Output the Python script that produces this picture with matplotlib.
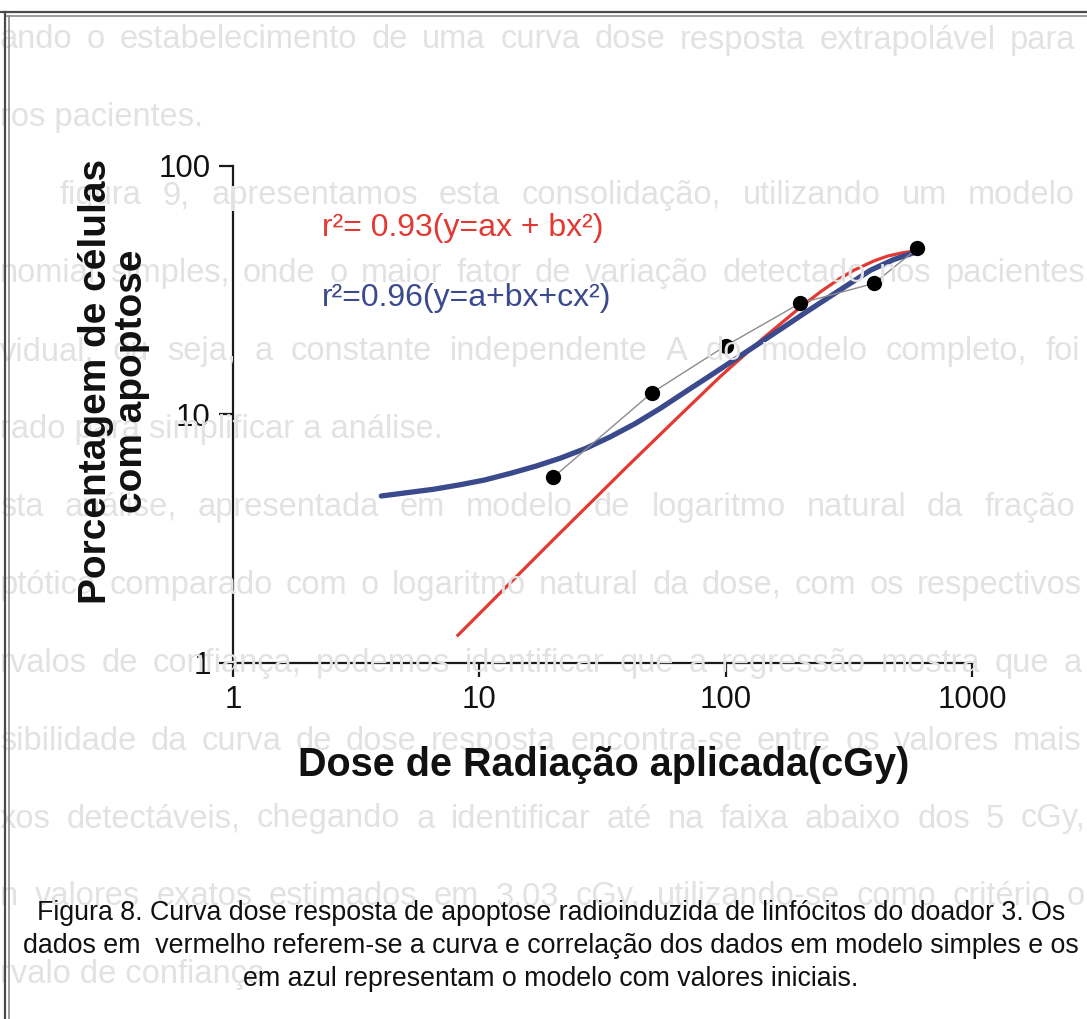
import matplotlib
matplotlib.use("Agg")
import matplotlib.pyplot as plt
from matplotlib.lines import Line2D
from matplotlib.ticker import FixedLocator, FixedFormatter, NullLocator

plt.rcParams['font.family'] = ['Liberation Sans', 'DejaVu Sans']

# ---------------- data ----------------
dose = [20, 50, 100, 200, 400, 600]
apoptose = [5.6, 12.2, 18.9, 28.0, 33.7, 46.6]

# red model curve (y = ax + bx^2)
red_x = [8.1, 20, 40, 63, 95, 143, 201, 243, 290, 332, 400, 454, 520, 590]
red_y = [1.28, 3.14, 6.2, 9.6, 14.2, 20.4, 27.0, 31.2, 35.2, 38.1, 41.5, 43.4, 44.7, 45.6]

# blue model curve (y = a + bx + cx^2)
blue_x = [4.0, 5.2, 6.5, 8.4, 10.5, 13.4, 17, 21.3, 27, 34.1, 43, 54.4, 70, 90,
          130, 170, 208, 284, 388, 480, 590]
blue_y = [4.70, 4.86, 5.00, 5.22, 5.45, 5.80, 6.20, 6.67, 7.30, 8.14, 9.2, 10.6, 12.5, 14.7,
          18.7, 22.3, 25.5, 31.2, 38.1, 42.0, 45.0]

x_ticks = [1, 10, 100, 1000]
x_ticklabels = ["1", "10", "100", "1000"]
y_ticks = [1, 10, 100]
y_ticklabels = ["1", "10", "100"]

red_label = "r²= 0.93(y=ax + bx²)"
blue_label = "r²=0.96(y=a+bx+cx²)"
x_title = "Dose de Radiação aplicada(cGy)"
y_title = "Porcentagem de células\ncom apoptose"
caption = ["Figura 8. Curva dose resposta de apoptose radioinduzida de linfócitos do doador 3. Os",
           "dados em  vermelho referem-se a curva e correlação dos dados em modelo simples e os",
           "em azul representam o modelo com valores iniciais."]

# faint bleed-through text of the scanned page: (text, left px, right px or None)
bg_lines = [
    ("ando o estabelecimento de uma curva dose resposta extrapolável para", 0, 1075),
    ("ros pacientes.", 0, None),
    ("figura 9, apresentamos esta consolidação, utilizando um modelo", 60, 1075),
    ("nomial simples, onde o maior fator de variação detectado nos pacientes", 0, 1085),
    ("vidual, ou seja, a constante independente A do modelo completo, foi", 0, 1080),
    ("rado para simplificar a análise.", 0, None),
    ("sta análise, apresentada em modelo de logaritmo natural da fração", 0, 1075),
    ("ptótica comparado com o logaritmo natural da dose, com os respectivos", 0, 1082),
    ("rvalos de confiança, podemos identificar que a regressão mostra que a", 0, 1082),
    ("sibilidade da curva de dose resposta encontra-se entre os valores mais", 0, 1082),
    ("xos detectáveis, chegando a identificar até na faixa abaixo dos 5 cGy,", 0, 1085),
    ("n valores exatos estimados em 3,03 cGy, utilizando-se como critério o", 0, 1085),
    ("rvalo de confiança", 0, None),
]

# ---------------- figure ----------------
W, H = 1087, 1019
fig = plt.figure(figsize=(W / 100, H / 100), dpi=100)
fig.patch.set_facecolor("white")

def fx(px):
    return px / W

def fy(py):
    return 1 - py / H

# faint background text (justified where the original line is full)
renderer = fig.canvas.get_renderer()
bg_color = "#e2e2e2"
bg_size = 23.5
for i, (txt, left, right) in enumerate(bg_lines):
    ycen = 40 + 77.9 * i
    if right is None:
        fig.text(fx(left), fy(ycen), txt, fontsize=bg_size, color=bg_color,
                 ha="left", va="center", zorder=0)
        continue
    words = txt.split(" ")
    objs = [fig.text(0, fy(ycen), w, fontsize=bg_size, color=bg_color,
                     ha="left", va="center", zorder=0) for w in words]
    widths = [o.get_window_extent(renderer).width for o in objs]
    gap = (right - left - sum(widths)) / max(len(words) - 1, 1)
    xpos = left
    for o, wdt in zip(objs, widths):
        o.set_x(fx(xpos))
        xpos += wdt + gap

# scanned page frame
frame_lines = [
    ((0, W), (12, 12), "#4a4a4a", 1.6),
    ((5, W), (15.5, 15.5), "#8a8a8a", 1.2),
    ((5, 5), (12, H), "#4a4a4a", 1.6),
    ((9, 9), (15.5, H), "#8a8a8a", 1.2),
]
for xs, ys, col, lw in frame_lines:
    fig.add_artist(Line2D([fx(v) for v in xs], [fy(v) for v in ys],
                          color=col, lw=lw, transform=fig.transFigure))

# ---------------- axes ----------------
x0, x1, ytop, ybot = 233, 972, 166, 663
ax = fig.add_axes([fx(x0), fy(ybot), (x1 - x0) / W, (ybot - ytop) / H])
ax.patch.set_alpha(0)
ax.set_xscale("log")
ax.set_yscale("log")
ax.set_xlim(1, 1000)
ax.set_ylim(1, 100)

for s in ["top", "right"]:
    ax.spines[s].set_visible(False)
for s in ["left", "bottom"]:
    ax.spines[s].set_linewidth(1.6)
    ax.spines[s].set_color("#1a1a1a")

ax.xaxis.set_major_locator(FixedLocator(x_ticks))
ax.xaxis.set_major_formatter(FixedFormatter(x_ticklabels))
ax.yaxis.set_major_locator(FixedLocator(y_ticks))
ax.yaxis.set_major_formatter(FixedFormatter(y_ticklabels))
ax.xaxis.set_minor_locator(NullLocator())
ax.yaxis.set_minor_locator(NullLocator())
ax.tick_params(axis="both", which="major", direction="out", length=10,
               width=1.6, color="#1a1a1a", labelsize=22.5, labelcolor="#111111")
ax.tick_params(axis="x", pad=6)
ax.tick_params(axis="y", pad=6)

ax.plot(red_x, red_y, color="#e23a33", lw=2.3, solid_capstyle="butt",
        solid_joinstyle="round", zorder=3, clip_on=False)
ax.plot(blue_x, blue_y, color="#3b4a8c", lw=3.8, solid_capstyle="round",
        solid_joinstyle="round", zorder=4, clip_on=False)
ax.plot(dose, apoptose, color="#8c8c8c", lw=1.0, zorder=5, clip_on=False)
ax.plot(dose, apoptose, "o", color="black", markersize=10, zorder=6, clip_on=False)

# equation labels
fig.text(fx(322), fy(228), red_label, color="#e23a33", fontsize=23, ha="left", va="center")
fig.text(fx(322), fy(298), blue_label, color="#3b4a8c", fontsize=23, ha="left", va="center")

# axis titles
fig.text(fx(604), fy(765), x_title, fontsize=28.5, fontweight="bold", ha="center", va="center",
         color="#111111")
fig.text(fx(114), fy(381), y_title, fontsize=28, fontweight="bold", rotation=90,
         ha="center", va="center", multialignment="center", linespacing=1.0, color="#111111")

# caption
for i, line in enumerate(caption):
    fig.text(fx(551), fy(913 + 33 * i), line, fontsize=19.3, ha="center", va="center",
             color="#111111")

fig.savefig("out.png", dpi=100, facecolor="white")
